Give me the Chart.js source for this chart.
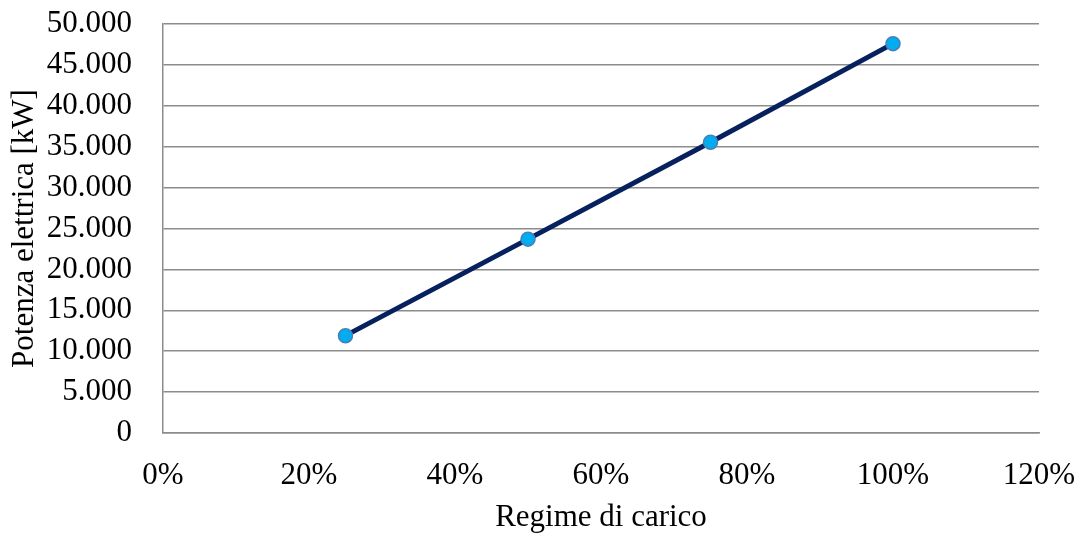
<!DOCTYPE html>
<html>
<head>
<meta charset="utf-8">
<script src="https://cdn.jsdelivr.net/npm/chart.js@4.4.1/dist/chart.umd.min.js"></script>
<style>
html,body{margin:0;padding:0;background:#fff;}
#wrap{width:1085px;height:536px;position:relative;}
</style>
</head>
<body>
<div id="wrap"><canvas id="c" width="1085" height="536"></canvas></div>
<script>
const loadPercent = [25, 50, 75, 100];
const electricPowerKW = [11900, 23700, 35550, 47600];
const xTicks = [0, 20, 40, 60, 80, 100, 120];
const yTicks = [0, 5000, 10000, 15000, 20000, 25000, 30000, 35000, 40000, 45000, 50000];
const xTitle = 'Regime di carico';
const yTitle = 'Potenza elettrica [kW]';

const fmtIt = v => v === 0 ? '0' : String(v).replace(/\B(?=(\d{3})+(?!\d))/g, '.');
const FONT = 'Liberation Serif, Times New Roman, serif';
const FS = 31;
const GRID = '#8c8c8c';

new Chart(document.getElementById('c'), {
  type: 'scatter',
  data: {
    datasets: [{
      data: loadPercent.map((x, i) => ({x: x, y: electricPowerKW[i]})),
      showLine: true,
      borderColor: '#06215e',
      borderWidth: 5,
      pointRadius: 7,
      pointBackgroundColor: '#00aeef',
      pointBorderColor: '#4a7ebb',
      pointBorderWidth: 1.5,
      tension: 0
    }]
  },
  options: {
    responsive: false,
    animation: false,
    devicePixelRatio: 1,
    layout: {padding: {top: 24, right: 46, bottom: 0, left: 0}},
    plugins: {legend: {display: false}, tooltip: {enabled: false}},
    scales: {
      x: {
        type: 'linear',
        min: 0, max: 120,
        afterBuildTicks: s => { s.ticks = xTicks.map(v => ({value: v})); },
        afterFit: s => { s.height = 103; s.paddingLeft = 0; s.paddingRight = 0; },
        grid: {display: false, drawTicks: false},
        border: {display: true, color: GRID, width: 1.5},
        ticks: {
          color: '#000',
          font: {family: FONT, size: FS},
          padding: 24,
          maxRotation: 0,
          autoSkip: false,
          callback: v => v + '%'
        },
        title: {
          display: true, text: xTitle, color: '#000',
          font: {family: FONT, size: FS},
          padding: {top: 0, bottom: 0}
        }
      },
      y: {
        min: 0, max: 50000,
        afterBuildTicks: s => { s.ticks = yTicks.map(v => ({value: v})); },
        afterFit: s => { s.width = 163; s.paddingTop = 0; s.paddingBottom = 0; },
        grid: {color: GRID, lineWidth: 1.5, drawTicks: false},
        border: {display: true, color: GRID, width: 1.5},
        ticks: {
          color: '#000',
          font: {family: FONT, size: FS},
          padding: 31,
          autoSkip: false,
          callback: v => fmtIt(v)
        },
        title: {
          display: true, text: yTitle, color: '#000',
          font: {family: FONT, size: FS},
          padding: {top: 6, bottom: 0}
        }
      }
    }
  }
});
</script>
</body>
</html>
